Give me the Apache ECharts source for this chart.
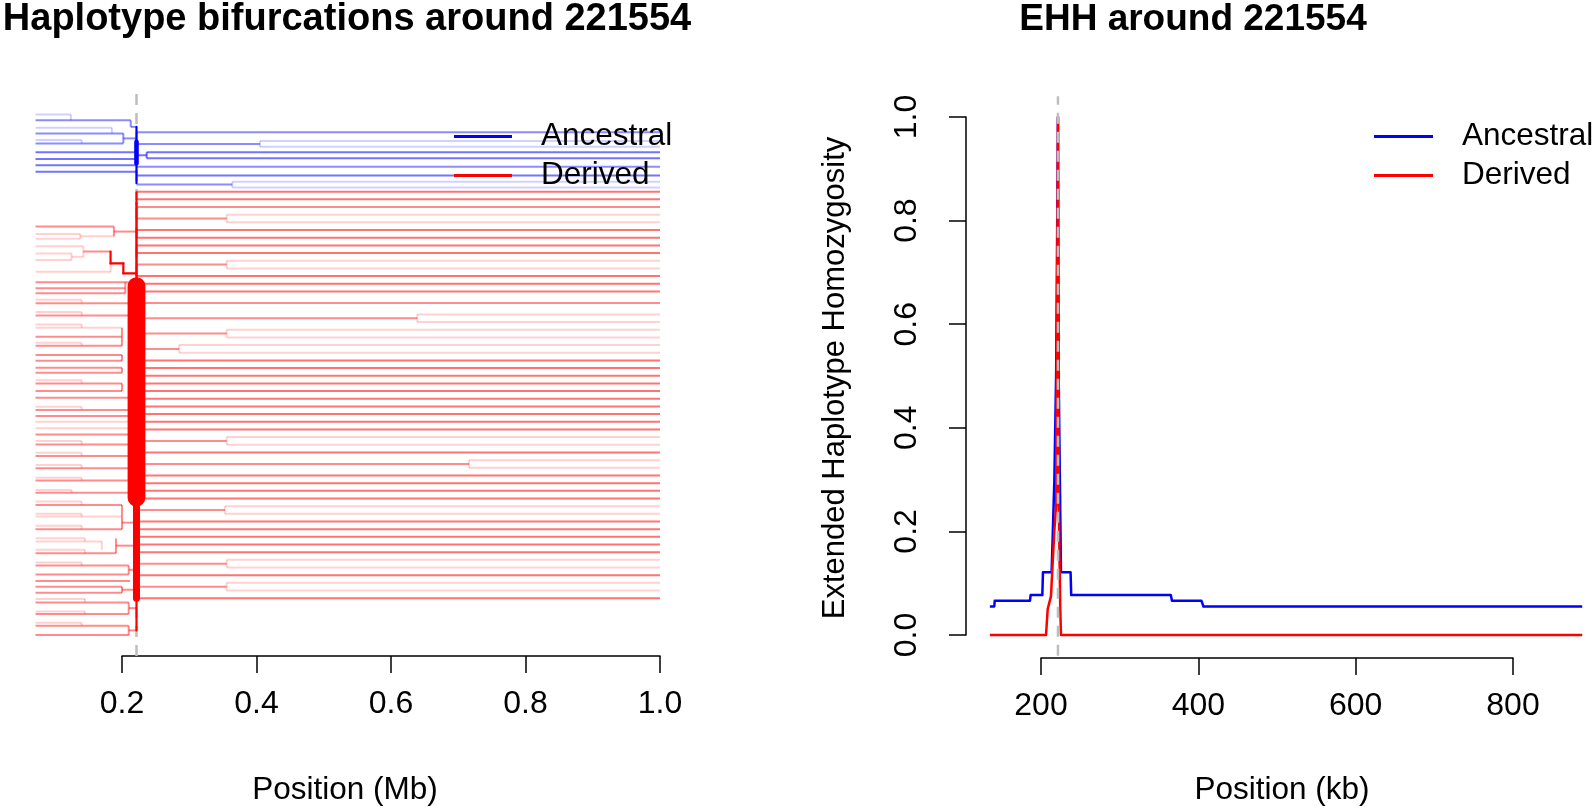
<!DOCTYPE html>
<html><head><meta charset="utf-8">
<script src="https://cdn.jsdelivr.net/npm/echarts@6/dist/echarts.min.js"></script>
<style>html,body{margin:0;padding:0;background:#fff}#c{width:1593px;height:810px}</style>
</head><body><div id="c"></div><script>
const FONT = '"Liberation Sans", Arial, sans-serif';
// ---------------- data ----------------
const focalMb = 0.221554;
const focalKb = 221.554;
const firstMarkerMb = 0.0714;
const lastMarkerMb = 1.0;
const mbTicks = [0.2, 0.4, 0.6, 0.8, 1.0];
const kbTicks = [200, 400, 600, 800];
const ehhTicks = [0, 0.2, 0.4, 0.6, 0.8, 1.0];

// Bifurcation diagram: haplotype rank positions (0 = top) and haplotype counts n
// left leaves: [rank, x where branch joins (Mb), n]
const leftAncestralLeaves = [[-0.1,0.124,1],[1.4,0.213,2],[3.3,0.185,1],[4.8,0.202,2],[6.5,0.14,1],[7.4,0.202,2],[9.7,focalMb,3],[11.5,focalMb,3],[13.1,focalMb,3],[14.8,focalMb,3]];
// links (vertical): [x, rank1, rank2, n]
const leftAncestralLinks = [[0.124,-0.1,1.4,1],[0.185,3.3,4.8,1],[0.14,6.5,7.4,1],[0.213,1.4,3.1,2],[0.202,4.8,7.4,2]];
// stems (horizontal): [x1, x2, rank, n]
const leftAncestralStems = [[0.213,focalMb,3.1,2],[0.202,focalMb,6.1,2]];
// right rows: [rank, n]; right pairs: [rank1, rank2, split x, n leaf, n stem]
const rightAncestralRows = [[4.5,2],[13.5,2],[15.8,3]];
const rightAncestralPairs = [[6.8,8.3,0.405,1,2],[9.7,11.3,0.2367,3,3],[17.4,18.9,0.364,1,2]];
// trunk at focal: [rank1, rank2, n]
const ancestralTrunk = [[3.1,17.8,4],[7.0,12.6,12]];

const leftDerivedLeaves = [[29.1,0.188,2],[31.0,0.138,1],[32.3,0.138,1],[34.2,0.1425,1],[36.1,0.125,1],[37.8,0.125,1],[40.9,0.183,1],[43.6,0.21,2],[45.2,0.205,2],[46.5,0.205,2],[48.2,0.14,1],[49.1,0.212,2],[51.4,0.14,1],[52.3,0.212,2],[54.6,0.14,1],[55.5,0.2,1],[57.8,0.2,2],[59.4,0.14,1],[60.2,0.2,2],[62.6,0.2,2],[64.1,0.2,2],[65.9,0.2,2],[67.2,0.2,2],[69.2,0.14,1],[70.0,0.2,2],[72.0,0.2,2],[73.7,0.212,2],[76.1,0.14,1],[76.9,0.212,2],[78.5,0.212,2],[80.0,0.212,1],[81.7,0.212,1],[83.3,0.212,2],[85.0,0.14,1],[85.9,0.212,2],[88.1,0.14,1],[88.9,0.212,2],[91.3,0.14,1],[92.1,0.212,2],[94.6,0.14,1],[95.3,0.212,2],[97.8,0.125,1],[98.5,0.212,2],[100.8,0.14,1],[101.7,0.2,2],[104.0,0.14,1],[104.7,0.2,1],[107.1,0.14,1],[108.0,0.2,2],[110.4,0.145,1],[111.2,0.17,1],[113.4,0.145,1],[114.3,0.191,2],[116.7,0.14,1],[117.5,0.21,2],[119.8,0.21,2],[121.5,0.212,2],[123.0,0.2,2],[124.6,0.2,2],[126.2,0.145,1],[127.1,0.21,2],[129.5,0.145,1],[130.1,0.21,2],[132.4,0.14,1],[133.2,0.21,2],[135.6,0.21,2]];
const leftDerivedLinks = [[0.188,29.1,31.65,2],[0.138,31.0,32.3,1],[0.125,36.1,37.8,1],[0.1425,34.2,37.0,1],[0.183,35.6,38.7,4],[0.202,38.7,41.3,4],[0.183,38.7,40.9,1],[0.205,43.6,46.5,2],
  [0.14,48.2,49.1,1],[0.14,51.4,52.3,1],[0.14,54.6,55.5,1],[0.14,59.4,60.2,1],[0.14,69.2,70.0,1],[0.14,76.1,76.9,1],[0.14,85.0,85.9,1],[0.14,88.1,88.9,1],[0.14,91.3,92.1,1],[0.14,94.6,95.3,1],[0.125,97.8,98.5,1],[0.14,100.8,101.7,1],[0.14,104.0,104.7,1],[0.14,107.1,108.0,1],[0.145,110.4,111.2,1],[0.17,111.2,113.4,1],[0.145,113.4,114.3,1],[0.14,116.7,117.5,1],[0.145,126.2,127.1,1],[0.145,129.5,130.1,1],[0.14,132.4,133.2,1],
  [0.2,55.5,57.8,2],[0.2,57.8,60.2,2],[0.2,62.6,64.1,2],[0.2,65.9,67.2,2],[0.2,70.0,72.0,2],[0.2,101.7,104.7,2],[0.2,104.7,108.0,2],[0.191,110.4,114.3,2],[0.21,117.5,119.8,2],[0.2,123.0,124.6,2],[0.21,127.1,130.1,2],[0.21,133.2,135.6,2]];
const leftDerivedStems = [[0.138,0.188,31.65,1],[0.125,0.1425,37.0,1],[0.1425,0.183,35.6,2],[0.183,0.202,38.7,4],[0.202,focalMb,41.3,4],[0.188,focalMb,30.4,2],[0.2,focalMb,106.3,2],[0.191,focalMb,112.3,2],[0.21,focalMb,118.6,2],[0.2,focalMb,123.8,2],[0.21,focalMb,128.6,2],[0.21,focalMb,134.4,2]];
const rightDerivedRows = [[20,3],[22,3],[24,2],[30,3],[32,3],[34,3],[36,3],[42,3],[44,3],[46,3],[49,2],[64,3],[66,3],[68,3],[70,3],[72,3],[74,3],[76,3],[78,3],[80,3],[82,3],[88,3],[94,3],[96,3],[98,3],[100,3],[106,3],[108,3],[110,3],[112,3],[114,3],[120,3],[126,3]];
const rightDerivedPairs = [[26,28,0.3556,1,2],[38,40,0.3556,1,2],[52,54,0.639,1,2],[56,58,0.3556,1,2],[60,62,0.285,1,2],[84,86,0.3556,1,2],[90,92,0.716,1,2],[102,104,0.353,1,2],[116,118,0.3556,1,2],[122,124,0.3556,1,2]];
const derivedTrunk = [[20.2,23,4],[23,43,5],[44.6,99.8,56],[99.8,126,20],[126,134.4,4]];

// EHH curves
const ancestralKb  = [135, 140.6, 141.2, 186, 186.8, 201.7, 202.5, 213.5, 217, 219.3, 221.554, 222.5, 224, 225.4, 237.6, 238.4, 365, 366.5, 404, 406.5, 888];
const ancestralEHH = [0.055, 0.055, 0.066, 0.066, 0.077, 0.077, 0.121, 0.121, 0.3, 0.51, 1.0, 0.5, 0.3, 0.121, 0.121, 0.077, 0.077, 0.066, 0.066, 0.055, 0.055];
const derivedKb  = [135, 206.4, 208.5, 212.7, 216.9, 219.3, 221.554, 222.6, 224.5, 225.4, 888];
const derivedEHH = [0, 0, 0.05, 0.075, 0.2, 0.25, 1.0, 0.25, 0.05, 0, 0];

// ---------------- build ----------------
function buildSegs(leaves, links, stems, rows, pairs, trunk) {
  const s = [];
  leaves.forEach(([y, xe, n]) => s.push([firstMarkerMb, y, xe, y, n]));
  links.forEach(([x, y1, y2, n]) => s.push([x, y1, x, y2, n]));
  stems.forEach(([x1, x2, y, n]) => s.push([x1, y, x2, y, n]));
  rows.forEach(([y, n]) => s.push([focalMb, y, lastMarkerMb, y, n]));
  pairs.forEach(([y1, y2, sp, nl, ns]) => {
    const ym = (y1 + y2) / 2;
    s.push([focalMb, ym, sp, ym, ns]);
    s.push([sp, y1, sp, y2, nl]);
    s.push([sp, y1, lastMarkerMb, y1, nl]);
    s.push([sp, y2, lastMarkerMb, y2, nl]);
  });
  trunk.forEach(([y1, y2, n]) => s.push([focalMb, y1, focalMb, y2, n]));
  s.sort((a, b) => a[4] - b[4]);
  return s;
}
const ancSegs = buildSegs(leftAncestralLeaves, leftAncestralLinks, leftAncestralStems, rightAncestralRows, rightAncestralPairs, ancestralTrunk);
const derSegs = buildSegs(leftDerivedLeaves, leftDerivedLinks, leftDerivedStems, rightDerivedRows, rightDerivedPairs, derivedTrunk);

function makeRender(rgb) {
  return function (params, api) {
    const p1 = api.coord([api.value(0), api.value(1)]);
    const p2 = api.coord([api.value(2), api.value(3)]);
    const n = api.value(4);
    const w = n <= 3 ? 2 : 1 + 0.3 * n;
    const a = n >= 4 ? 1 : [0, 0.18, 0.45, 0.55][n];
    return {
      type: 'line', silent: true,
      shape: { x1: p1[0], y1: p1[1], x2: p2[0], y2: p2[1] },
      style: { stroke: 'rgba(' + rgb + ',' + a + ')', lineWidth: w, lineCap: n >= 4 ? 'round' : 'butt' }
    };
  };
}
function makeCurve(xs, ys, color, width, dash) {
  return function (params, api) {
    const pts = xs.map((x, i) => api.coord([x, ys[i]]));
    return { type: 'polyline', silent: true, shape: { points: pts },
      style: { stroke: color, lineWidth: width, fill: null, lineDash: dash || null, lineJoin: 'round' } };
  };
}

const chart = echarts.init(document.getElementById('c'), null, { renderer: 'canvas' });
const axisLabelBase = { color: '#000', fontSize: 32, fontFamily: FONT };
const legendBase = {
  orient: 'vertical', top: 117, padding: 0, icon: 'rect', itemHeight: 3, itemGap: 0, selectedMode: false,
  textStyle: { fontSize: 31.5, fontFamily: FONT, color: '#000', lineHeight: 39, padding: [0, 0, 0, 24] },
  data: [{ name: 'Ancestral', itemStyle: { color: '#0000ff' } }, { name: 'Derived', itemStyle: { color: '#ff0000' } }]
};
chart.setOption({
  animation: false,
  backgroundColor: '#fff',
  grid: [
    { left: 122, width: 538, top: 115, height: 520 },
    { left: 1041, width: 472, top: 117, height: 518 }
  ],
  xAxis: [
    { gridIndex: 0, type: 'value', min: 0.2, max: 1.0, interval: 0.2, offset: 21, position: 'bottom',
      axisLine: { onZero: false, lineStyle: { color: '#000', width: 1.5 } },
      axisTick: { length: 17, lineStyle: { color: '#000', width: 1.5 } },
      axisLabel: Object.assign({ margin: 32, formatter: v => v.toFixed(1) }, axisLabelBase),
      splitLine: { show: false } },
    { gridIndex: 1, type: 'value', min: 200, max: 800, interval: 200, offset: 23, position: 'bottom',
      axisLine: { onZero: false, lineStyle: { color: '#000', width: 1.5 } },
      axisTick: { length: 17, lineStyle: { color: '#000', width: 1.5 } },
      axisLabel: Object.assign({ margin: 32 }, axisLabelBase),
      splitLine: { show: false } }
  ],
  yAxis: [
    { gridIndex: 0, type: 'value', min: 0, max: 135.6, inverse: true, show: false },
    { gridIndex: 1, type: 'value', min: 0, max: 1, interval: 0.2, offset: 75,
      axisLine: { show: true, onZero: false, lineStyle: { color: '#000', width: 1.5 } },
      axisTick: { show: true, length: 17, lineStyle: { color: '#000', width: 1.5 } },
      axisLabel: Object.assign({ margin: 43, rotate: 90, formatter: v => v.toFixed(1) }, axisLabelBase),
      splitLine: { show: false } }
  ],
  legend: [
    Object.assign({ left: 454, itemWidth: 58 }, legendBase),
    Object.assign({ left: 1374, itemWidth: 59 }, legendBase)
  ],
  graphic: [
    { type: 'text', x: 347, y: 20, style: { text: 'Haplotype bifurcations around 221554', font: 'bold 38px ' + FONT, fill: '#000', textAlign: 'center', textVerticalAlign: 'middle' } },
    { type: 'text', x: 1193, y: 20, style: { text: 'EHH around 221554', font: 'bold 37px ' + FONT, fill: '#000', textAlign: 'center', textVerticalAlign: 'middle' } },
    { type: 'text', x: 345, y: 790, style: { text: 'Position (Mb)', font: '31.5px ' + FONT, fill: '#000', textAlign: 'center', textVerticalAlign: 'middle' } },
    { type: 'text', x: 1282, y: 790, style: { text: 'Position (kb)', font: '31.5px ' + FONT, fill: '#000', textAlign: 'center', textVerticalAlign: 'middle' } },
    { type: 'text', x: 835, y: 378, rotation: Math.PI / 2, style: { text: 'Extended Haplotype Homozygosity', font: '31px ' + FONT, fill: '#000', textAlign: 'center', textVerticalAlign: 'middle' } }
  ],
  series: [
    { name: 'focalL', type: 'custom', xAxisIndex: 0, yAxisIndex: 0, clip: false, silent: true, z: 1, data: [[focalMb, 0]],
      renderItem: makeCurve([focalMb, focalMb], [-5.5, 141.1], '#bebebe', 2.5, [11, 8]) },
    { name: 'Ancestral', type: 'custom', xAxisIndex: 0, yAxisIndex: 0, clip: false, z: 2,
      itemStyle: { color: '#0000ff' }, encode: { x: [0, 2], y: [1, 3] }, data: ancSegs, renderItem: makeRender('0,0,255') },
    { name: 'Derived', type: 'custom', xAxisIndex: 0, yAxisIndex: 0, clip: false, z: 3,
      itemStyle: { color: '#ff0000' }, encode: { x: [0, 2], y: [1, 3] }, data: derSegs, renderItem: makeRender('255,0,0') },
    { name: 'Ancestral', type: 'custom', xAxisIndex: 1, yAxisIndex: 1, clip: false, z: 2, data: [[focalKb, 0]],
      itemStyle: { color: '#0000ff' }, renderItem: makeCurve(ancestralKb, ancestralEHH, '#0000ff', 2.5) },
    { name: 'Derived', type: 'custom', xAxisIndex: 1, yAxisIndex: 1, clip: false, z: 3, data: [[focalKb, 0]],
      itemStyle: { color: '#ff0000' }, renderItem: makeCurve(derivedKb, derivedEHH, '#ff0000', 2.5) },
    { name: 'focalR', type: 'custom', xAxisIndex: 1, yAxisIndex: 1, clip: false, silent: true, z: 4, data: [[focalKb, 0]],
      renderItem: makeCurve([focalKb, focalKb], [-0.04, 1.04], '#bebebe', 2.5, [11, 8]) }
  ]
});
</script></body></html>
